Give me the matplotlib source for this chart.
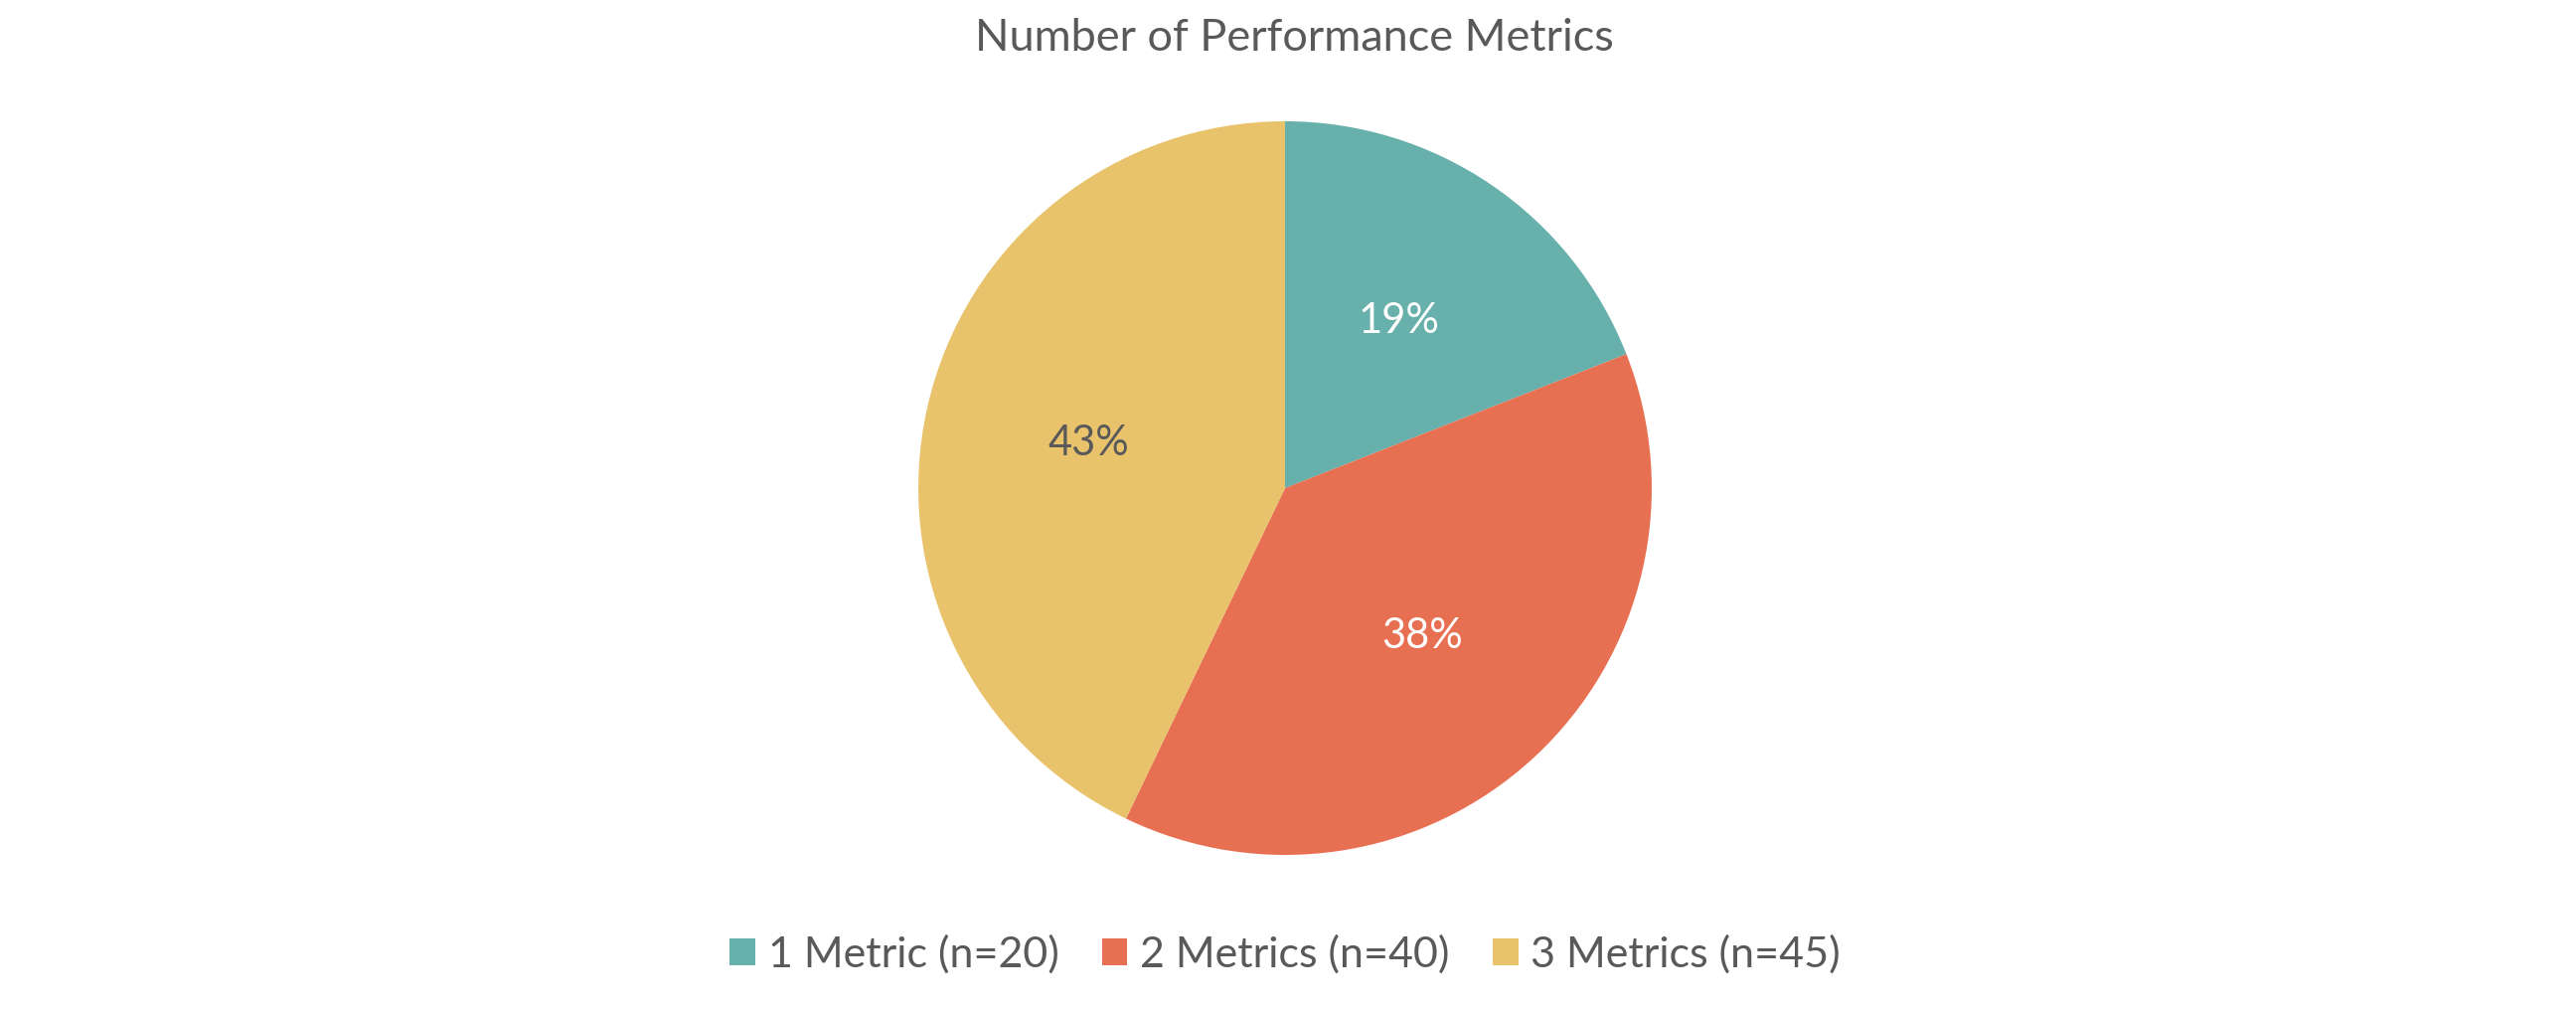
import matplotlib
matplotlib.use('Agg')
import matplotlib.pyplot as plt
from matplotlib.patches import Patch

labels = ['1 Metric (n=20)', '2 Metrics (n=40)', '3 Metrics (n=45)']
counts = [20, 40, 45]
colors = ['#67B0AB', '#E87052', '#E8C36B']
text_colors = ['white', 'white', '#595959']
title = 'Number of Performance Metrics'

plt.rcParams['font.family'] = ['Lato', 'DejaVu Sans']
grey = '#595959'

fig = plt.figure(figsize=(25.92, 10.15), dpi=100)
ax = fig.add_axes([0.3565, 0.1527, 0.2847, 0.7271])

wedges, texts, autotexts = ax.pie(counts, colors=colors, startangle=90, counterclock=False,
                                  autopct='%1.0f%%', pctdistance=0.55, radius=1,
                                  wedgeprops={'linewidth': 0})
for t, c in zip(autotexts, text_colors):
    t.set_color(c)
    t.set_fontsize(30)
ax.set_xlim(-1, 1)
ax.set_ylim(-1, 1)
ax.set_aspect('auto')
ax.axis('off')

fig.text(0.5025, 0.9498, title, ha='center', va='baseline', fontsize=32.5, color=grey)

handles = [Patch(facecolor=c, edgecolor='none') for c in colors]
fig.legend(handles, labels, loc='center', bbox_to_anchor=(1293 / 2592, 1 - 960 / 1015),
           ncol=3, frameon=False, fontsize=31, labelcolor=grey,
           handlelength=0.6, handleheight=0.6, handletextpad=0.3, columnspacing=1.0)

fig.savefig('out.png', dpi=100)
